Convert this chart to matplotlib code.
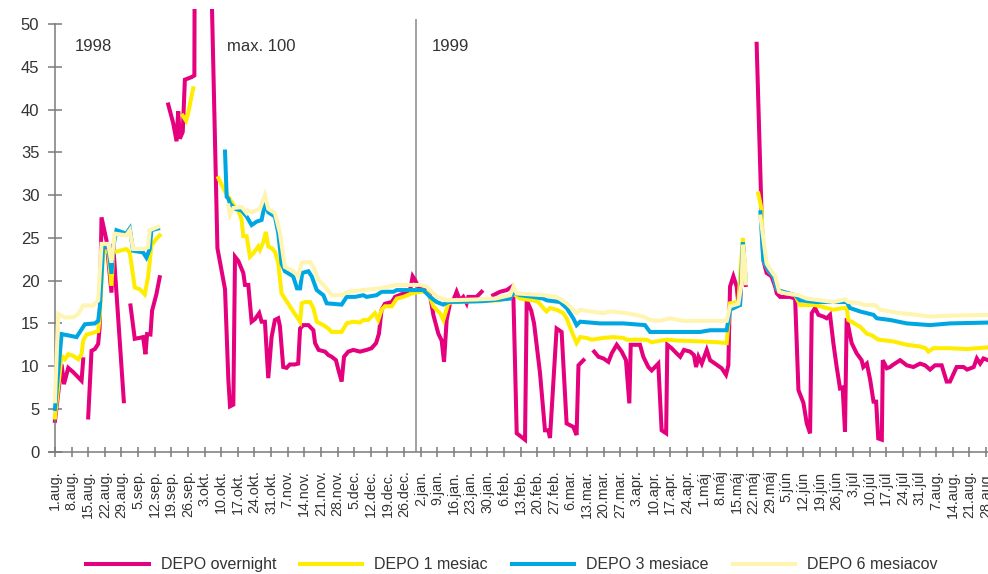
import numpy as np
import matplotlib
matplotlib.use("Agg")
import matplotlib.pyplot as plt

plt.rcParams['font.family'] = ['Liberation Sans', 'DejaVu Sans']

# days counted from 1.aug.1998; None = no quote (gap in line)
on_days = [0, 2.8, 3.8, 5.6, 7.7, 9.1, 11.2, 11.9, 12.9,
           14.0, 15.4, 16.8, 18.2, 18.8, 19.6, 21.7, 23.8, 24.5, 29.0, 30.5,
           31.8, 33.6, 35.5, 37.1, 38.1, 38.8, 40.2, 40.9, 42.7, 44.1, 46.0,
           47.7, 49.8, 51.2, 51.9, 52.6, 53.8, 54.7, 57.5, 58.7, 59.2, 62.2,
           68.4, 71.6, 73.0, 73.7, 75.1, 75.8, 77.2, 79.3, 80.0, 81.4, 82.8,
           84.2, 86.0, 87.0, 88.4, 89.8, 91.2, 92.6, 94.0, 94.7, 96.1, 97.5,
           98.9, 101.0, 102.4, 103.2, 104.5, 106.7, 108.8, 109.5, 111.0, 113.7,
           115.1, 116.5, 118.3, 119.3, 120.7, 121.7, 123.5, 125.6, 128.4, 131.2,
           133.3, 135.2, 136.4, 137.5, 138.9, 141.8, 143.2, 146.7, 149.5, 150.6,
           151.5, 153.0, 155.1, 157.9, 159.3, 161.4, 162.8, 163.8, 164.9, 166.3,
           167.7, 169.1, 170.5, 171.9, 173.3, 174.0, 177.5, 179.6, 182.0,
           184.5, 187.4, 190.2, 192.3, 193.0, 194.4, 197.9, 198.6, 200.5, 201.7,
           204.2, 206.3, 207.7, 208.4, 211.2, 213.3, 215.4, 218.2, 219.6, 220.4,
           222.5, 224.5,
           227.0, 228.8, 230.9, 233.0, 234.4, 236.5, 238.6, 240.4, 241.8, 242.4,
           246.3, 247.7, 248.4, 249.8, 251.2, 253.3, 254.0, 255.4, 257.3, 257.8,
           259.6, 261.7, 263.2, 264.8, 267.4, 269.0, 269.9, 270.9, 272.3, 274.4,
           275.8, 277.9, 280.7, 282.5, 283.5, 284.2, 285.6, 287.0, 287.7, 288.4,
           289.5, 290.8, 293.0,
           295.4, 297.5, 298.2, 299.6, 301.7, 303.2, 303.9, 305.3, 309.5, 311.6,
           313.0, 315.1, 316.5, 317.9, 318.6, 320.0, 321.4, 323.5, 324.9, 326.3,
           327.7, 329.1, 330.5, 331.6, 332.6, 333.3, 335.4, 337.5, 339.6, 340.3,
           341.8, 343.2, 344.6, 345.7, 346.6, 348.1, 348.5, 350.2, 351.6, 352.5,
           355.8, 358.6, 361.4, 364.2, 366.3, 368.4, 370.5, 373.3, 375.4, 376.8,
           379.6, 382.5, 384.0, 386.8, 388.1, 389.5, 390.9, 392.8]
on_vals = [3.6, 10.2, 7.9, 9.8, 9.3, 8.9, 8.3, 10.8, None,
           4.0, 11.8, 12.0, 12.6, 14.5, 27.4, 24.7, 18.6, 24.3, 5.9, None,
           17.1, 13.2, 13.3, 13.4, 11.4, 13.75, 13.7, 16.5, 18.4, 20.4, None,
           40.6, 38.4, 36.3, 39.8, 36.6, 37.4, 43.5, 43.8, 44.0, 100, 100,
           23.8, 19.0, 8.4, 5.3, 5.5, 22.8, 22.3, 20.9, 19.5, 19.5, 15.2,
           15.5, 16.2, 15.2, 15.2, 8.6, 13.4, 15.4, 15.6, 14.7, 9.9, 9.8,
           10.2, 10.2, 10.3, 14.4, 14.8, 14.8, 14.2, 12.7, 11.9, 11.7,
           11.3, 11.1, 10.7, 9.6, 8.2, 11.1, 11.7, 11.9, 11.7, 11.9,
           12.1, 12.7, 13.8, 16.6, 17.3, 17.5, 18.1, 18.5, 18.9, 20.5,
           20.1, 19.3, 19.1, 18.3, 16.0, 13.8, 13.0, 10.5, 15.4, 17.35,
           17.7, 18.7, 17.7, 18.1, 17.35, 18.1, 18.1, 18.7, None,
           18.3, 18.7, 18.9, 19.3, 18.1, 2.15, 1.4, 17.7, 16.5, 15.0,
           9.2, 2.5, 2.5, 1.6, 14.4, 14.0, 3.3, 2.9, 1.95, 10.1,
           10.7, None,
           11.7, 11.1, 10.9, 10.5, 11.5, 12.5, 11.7, 10.7, 5.65, 12.5,
           12.5, 11.1, 10.7, 9.9, 9.5, 10.1, 10.3, 2.5, 2.15, 12.5,
           12.1, 11.5, 11.1, 11.9, 11.7, 11.3, 9.9, 11.1, 10.3, 11.9,
           10.7, 10.3, 9.75, 9.0, 10.1, 19.3, 20.5, 19.3, 17.35, 17.3,
           23.5, 19.5, None,
           47.7, 27.5, 22.4, 20.9, 20.5, 19.3, 18.5, 18.1, 18.1, 17.9,
           7.2, 5.7, 3.3, 2.15, 16.2, 16.8, 16.0, 15.8, 15.6, 16.0,
           12.7, 9.9, 7.4, 7.5, 2.35, 15.6, 12.7, 11.5, 10.7, 9.9,
           10.3, 8.4, 5.85, 5.85, 1.55, 1.4, 10.7, 9.75, 9.9, 10.1,
           10.7, 10.1, 9.9, 10.3, 10.1, 9.6, 10.1, 10.1, 8.2, 8.2,
           9.9, 9.9, 9.6, 9.9, 10.9, 10.3, 10.9, 10.7]

m1_days = [0, 2.8, 4.2, 5.6, 7.7, 9.8, 11.2, 11.9, 13.3, 16.1, 18.2, 18.9,
           20.3, 22.4, 23.8, 24.5, 27.3, 30.0, 31.5, 33.6, 35.7, 37.8, 39.2,
           40.6, 42.7, 44.1, 49.0,
           53.8, 55.2, 56.0, 58.2, 63.0,
           68.8, 71.6, 73.0, 75.8, 77.2, 78.6, 79.3, 80.7, 82.1, 83.5, 85.6,
           86.3, 87.7, 88.8, 89.8, 91.2, 92.6, 94.0, 95.4, 97.5, 100.3, 103.2,
           103.9, 105.3, 107.4, 108.8, 110.2, 113.0, 115.1, 116.5, 120.7, 122.8,
           125.6, 128.4, 129.8, 131.9, 133.3, 134.7, 136.1, 137.5, 138.9, 141.8,
           143.9, 146.7, 150.2, 153.7, 156.5, 157.9, 159.3, 162.1, 163.5, 165.6,
           167.7, 177.5, 187.4, 191.6, 193.0, 195.8, 201.4, 203.5, 205.6, 207.0,
           208.4, 211.2, 214.0, 215.4, 216.8, 218.2, 219.6, 221.1, 223.9, 226.0,
           230.9, 235.1, 239.3, 240.7, 249.1, 251.2, 257.5, 261.7, 271.6, 278.6,
           282.8, 284.2, 287.7, 289.6, 290.8, 293.0,
           296.1, 297.5, 298.2, 300.3, 302.5, 303.9, 305.3, 311.6, 313.7, 320.0,
           324.9, 327.7, 331.9, 333.3, 334.0, 339.0, 341.8, 343.9, 346.6, 352.9,
           358.6, 364.2, 366.5, 367.7, 369.8, 376.8, 383.8, 392.8]
m1_vals = [4.0, 11.2, 10.8, 11.4, 11.2, 10.8, 11.4, 13.0, 13.7, 13.9, 14.1, 16.0,
           23.3, 23.5, 19.4, 23.3, 23.5, 23.7, 23.3, 19.2, 19.0, 18.4, 20.4,
           24.1, 24.9, 25.3, None,
           39.3, 38.7, 39.5, 42.5, None,
           32.0, 30.4, 29.8, 28.6, 28.2, 27.1, 25.2, 25.2, 22.8, 23.2, 24.0,
           23.6, 24.5, 25.7, 24.0, 23.8, 23.4, 22.1, 18.5, 17.6, 16.4, 15.2,
           17.35, 17.5, 17.5, 16.8, 15.2, 14.8, 14.4, 14.0, 14.0, 15.0,
           15.2, 15.1, 15.4, 15.4, 15.8, 16.2, 15.4, 16.6, 17.0, 17.0,
           17.9, 18.1, 18.5, 18.7, 18.7, 18.1, 17.0, 16.2, 15.4, 17.35,
           17.5, 17.6, 17.7, 18.1, 18.5, 17.9, 17.7, 17.5, 16.8, 16.4,
           16.8, 16.6, 16.2, 15.6, 14.6, 13.6, 12.7, 13.4, 13.3, 13.1,
           13.3, 13.4, 13.3, 13.1, 13.1, 12.8, 13.1, 13.0, 12.9, 12.8,
           12.7, 17.35, 17.5, 25.0, 20.0, None,
           30.2, 28.3, 22.4, 21.2, 20.5, 19.0, 18.8, 18.3, 17.15, 17.15,
           16.8, 16.6, 16.8, 16.8, 15.4, 14.6, 13.8, 13.6, 13.1, 12.9,
           12.5, 12.3, 12.1, 11.7, 12.1, 12.1, 12.0, 12.2]

m3_days = [0, 2.8, 5.6, 9.1, 11.2, 12.6, 16.8, 18.2, 18.9, 20.3, 22.4, 23.8,
           24.5, 25.9, 30.0, 31.5, 32.9, 37.1, 38.5, 39.9, 40.6, 43.4, 50.0,
           71.6, 72.3, 73.0, 73.7, 75.8, 78.6, 80.7, 82.8, 84.9, 87.0, 88.4,
           89.8, 92.6, 94.0, 95.4, 96.8, 100.3, 101.9, 103.2, 104.1, 106.7,
           108.1, 110.2, 113.0, 114.4, 120.7, 122.8, 126.3, 129.8, 131.2, 135.4,
           137.5, 142.5, 143.9, 150.6, 155.1, 157.9, 160.7, 163.5, 165.6, 180.0,
           191.6, 193.0, 195.8, 201.4, 205.6, 207.0, 212.6, 215.4, 218.2, 219.6,
           221.1, 229.5, 239.3, 248.4, 250.5, 258.9, 271.6, 275.8, 282.8, 284.2,
           288.4, 289.6, 290.8, 293.0,
           297.0, 298.2, 300.3, 302.5, 303.9, 305.3, 311.6, 313.7, 320.6, 333.3,
           334.7, 338.9, 344.6, 346.0, 351.6, 358.6, 368.4, 376.8, 392.8]
m3_vals = [5.0, 13.75, 13.6, 13.4, 14.3, 14.9, 15.0, 15.3, 16.9, 24.1, 24.1, 20.8,
           23.9, 25.9, 25.5, 26.1, 23.5, 23.3, 22.7, 23.7, 25.9, 26.1, None,
           35.1, 29.8, 29.6, 29.0, 28.4, 28.2, 27.5, 26.5, 26.9, 27.1, 29.0,
           28.0, 27.5, 25.6, 22.0, 21.1, 20.5, 19.1, 19.1, 20.9, 21.1,
           20.5, 18.9, 18.3, 17.35, 17.2, 18.1, 18.1, 18.3, 18.1, 18.3,
           18.7, 18.7, 18.9, 18.9, 18.9, 18.1, 17.5, 17.2, 17.5, 17.6,
           17.9, 18.6, 18.3, 18.1, 17.9, 17.7, 17.5, 16.8, 15.6, 14.8,
           15.2, 15.0, 15.0, 14.8, 14.0, 14.0, 14.0, 14.2, 14.2, 16.6,
           17.15, 24.5, 20.0, None,
           28.0, 22.4, 21.2, 20.5, 19.0, 18.8, 18.3, 17.7, 17.5, 17.5,
           16.8, 16.4, 16.0, 15.6, 15.4, 15.0, 14.8, 15.0, 15.1]

m6_days = [0, 1.4, 4.2, 7.7, 9.8, 11.9, 16.1, 18.2, 19.6, 22.4, 23.8, 25.2,
           30.0, 31.5, 32.9, 37.1, 39.2, 39.9, 43.4, 50.0,
           73.0, 73.7, 75.1, 78.6, 80.7, 81.4, 82.8, 86.3, 88.4, 89.8, 92.6,
           94.7, 96.8, 100.3, 102.4, 103.9, 107.4, 108.8, 110.9, 113.7, 116.5,
           120.7, 123.5, 129.8, 136.8, 143.9, 153.7, 156.5, 159.3, 160.7, 164.9,
           177.5, 185.3, 191.6, 193.0, 194.4, 205.6, 211.2, 215.4, 218.2, 219.6,
           221.1, 225.3, 230.9, 233.7, 240.7, 247.7, 250.5, 254.7, 258.9, 264.5,
           282.8, 284.2, 287.7, 289.1, 289.6, 290.5, 290.9, 293.0,
           297.0, 299.6, 300.9, 303.2, 304.9, 307.7, 313.0, 316.5, 322.1, 327.7,
           332.6, 334.0, 338.9, 340.5, 345.3, 347.4, 351.6, 355.8, 362.8, 368.4,
           376.8, 392.8]
m6_vals = [5.9, 16.1, 15.7, 15.7, 16.1, 17.1, 17.1, 17.7, 24.3, 24.3, 22.1, 25.5,
           25.3, 25.9, 23.7, 23.7, 23.9, 25.9, 26.3, None,
           28.8, 27.7, 28.5, 28.6, 27.9, 28.2, 28.0, 28.4, 30.0, 28.4, 27.9,
           25.6, 21.6, 21.1, 20.5, 22.1, 22.2, 21.6, 20.1, 19.3, 18.3,
           18.3, 18.7, 18.9, 19.1, 19.5, 19.5, 19.3, 18.5, 18.1, 17.7,
           17.8, 17.9, 18.3, 19.3, 18.5, 18.3, 18.1, 17.35, 16.6, 16.2,
           16.6, 16.4, 16.2, 16.4, 16.2, 15.8, 15.4, 15.3, 15.6, 15.3,
           15.3, 17.0, 17.3, 19.7, 24.2, 22.0, 19.7, None,
           27.5, 22.0, 21.4, 20.5, 18.7, 18.5, 18.3, 17.9, 17.7, 17.5,
           17.8, 17.5, 17.35, 17.15, 17.15, 16.6, 16.4, 16.2, 16.0, 15.8,
           15.9, 16.0]

tick_labels = ['1.aug.', '8.aug.', '15.aug.', '22.aug.', '29.aug.', '5.sep.',
               '12.sep.', '19.sep.', '26.sep.', '3.okt.', '10.okt.', '17.okt.',
               '24.okt.', '31.okt.', '7.nov.', '14.nov.', '21.nov.', '28.nov.',
               '5.dec.', '12.dec.', '19.dec.', '26.dec.', '2.jan.', '9.jan.',
               '16.jan.', '23.jan.', '30.jan.', '6.feb.', '13.feb.', '20.feb.',
               '27.feb.', '6.mar.', '13.mar.', '20.mar.', '27.mar.', '3.apr.',
               '10.apr.', '17.apr.', '24.apr.', '1.máj', '8.máj', '15.máj',
               '22.máj', '29.máj', '5.jún', '12.jún', '19.jún', '26.jún',
               '3.júl', '10.júl', '17.júl', '24.júl', '31.júl', '7.aug.',
               '14.aug.', '21.aug.', '28.aug.']
tick_days = [7 * i for i in range(len(tick_labels))]

series = [
    ('DEPO overnight', on_days, on_vals, '#e5007d'),
    ('DEPO 1 mesiac', m1_days, m1_vals, '#ffed00'),
    ('DEPO 3 mesiace', m3_days, m3_vals, '#00a6e2'),
    ('DEPO 6 mesiacov', m6_days, m6_vals, '#fff4b0'),
]

year_break = 151.8
txt_color = '#333333'
axis_color = '#7a7a7a'

fig = plt.figure(figsize=(9.88, 5.74), dpi=100)
ax = fig.add_axes([0.0496, 0.2131, 0.9504, 0.7717])

for i, (name, d, v, c) in enumerate(series):
    vals = np.array([np.nan if x is None else x for x in v], dtype=float)
    ax.plot(d, vals, color=c, lw=2.9, label=name, zorder=2 + i,
            solid_joinstyle='miter')

ax.vlines(year_break, 0, 50.6, color='#888888', lw=1.1, zorder=1)

ax.text(8.4, 47.4, '1998', fontsize=12, color=txt_color, va='center')
ax.text(72.4, 47.4, 'max. 100', fontsize=12, color=txt_color, va='center')
ax.text(158.7, 47.4, '1999', fontsize=12, color=txt_color, va='center')

ax.set_xlim(-2.5, 392.8)
ax.set_ylim(0, 51.8)
ax.set_yticks(range(0, 51, 5))
ax.set_xticks(tick_days)
ax.set_xticklabels(tick_labels, rotation=90, va='top', ha='center')

for s in ['top', 'right']:
    ax.spines[s].set_visible(False)
ax.spines['left'].set_position(('data', 0))
ax.spines['left'].set_bounds(0, 50)
for s in ['left', 'bottom']:
    ax.spines[s].set_color(axis_color)
    ax.spines[s].set_linewidth(1.1)

ax.tick_params(axis='y', direction='inout', length=9.4, width=1.1,
               color=axis_color, labelcolor=txt_color, labelsize=12, pad=6.5)
ax.tick_params(axis='x', direction='inout', length=7.2, width=1.1,
               color=axis_color, labelcolor=txt_color, labelsize=10.3, pad=10)

fig.legend(loc='center', bbox_to_anchor=(0.518, 0.016), ncol=4, frameon=False,
           fontsize=11.5, handlelength=3.9, handletextpad=0.75,
           columnspacing=1.5, labelcolor=txt_color)

fig.savefig('out.png', dpi=100)
